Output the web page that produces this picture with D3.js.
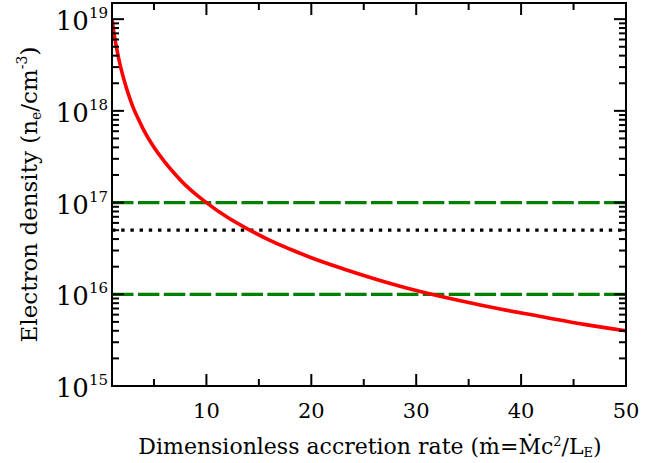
<html>
<head>
<script src="https://d3js.org/d3.v7.min.js"></script>
<style>
  body { margin: 0; background: white; }
  text { font-family: "DejaVu Serif", serif; fill: black; }
</style>
</head>
<body>
<svg id="chart" width="664" height="463"></svg>
<script>
  // accretion rate vs electron density
  var mdot = [1, 1.25, 1.5, 1.75, 2, 2.5, 3, 3.5, 4, 5, 6, 7, 8, 9, 10, 12, 14, 16, 18, 20, 23, 26, 30, 34, 38, 42, 46, 50];
  var density = [1.0e19, 6.4e18, 4.45e18, 3.25e18, 2.5e18, 1.6e18, 1.1e18, 8.2e17, 6.25e17, 4.0e17, 2.8e17, 2.05e17, 1.55e17, 1.23e17,
                 1.0e17, 6.9e16, 5.1e16, 3.9e16, 3.1e16, 2.5e16, 1.9e16, 1.48e16, 1.1e16, 8.6e15, 6.9e15, 5.7e15, 4.7e15, 4.0e15];
  var dashedLevels = [1e17, 1e16];
  var dottedLevel = 5e16;
  var xTicks = [10, 20, 30, 40, 50];
  var xMinorTicks = [5, 15, 25, 35, 45];
  var yTicks = [1e15, 1e16, 1e17, 1e18, 1e19];
  var yExps = ["15", "16", "17", "18", "19"];

  var margin = {top: 3, right: 38, bottom: 77, left: 112},
      width = 664 - margin.left - margin.right,
      height = 463 - margin.top - margin.bottom;

  var svg = d3.select("#chart")
    .append("g")
      .attr("transform", "translate(" + margin.left + "," + margin.top + ")");

  var x = d3.scaleLinear().domain([1, 50]).range([0, width]);
  var y = d3.scaleLog().domain([1e15, 1.5e19]).range([height, 0]);

  svg.append("clipPath").attr("id", "clip")
    .append("rect").attr("width", width).attr("height", height);

  var data = mdot.map(function(m, i) { return {m: m, n: density[i]}; });

  // horizontal reference lines
  dashedLevels.forEach(function(v) {
    svg.append("line")
      .attr("x1", 0).attr("x2", width)
      .attr("y1", y(v)).attr("y2", y(v))
      .style("stroke", "#008000")
      .style("stroke-width", 3.3)
      .style("stroke-dasharray", "21.5,4.4");
  });
  svg.append("line")
    .attr("x1", 0).attr("x2", width)
    .attr("y1", y(dottedLevel)).attr("y2", y(dottedLevel))
    .style("stroke", "black")
    .style("stroke-width", 3.3)
    .style("stroke-dasharray", "3.4,5.8");

  svg.append("path")
    .datum(data)
    .attr("clip-path", "url(#clip)")
    .attr("fill", "none")
    .attr("stroke", "#ff0000")
    .attr("stroke-width", 3.6)
    .attr("d", d3.line()
      .x(function(d) { return x(d.m); })
      .y(function(d) { return y(d.n); })
      .curve(d3.curveMonotoneX));

  // ticks, pointing inwards on all four sides
  var ticks = svg.append("g").style("stroke", "black").style("stroke-width", 2);
  var yMinor = [];
  for (var e = 15; e < 19; e++) for (var k = 2; k <= 9; k++) yMinor.push(k * Math.pow(10, e));
  [[xTicks, 12], [xMinorTicks, 7]].forEach(function(t) {
    t[0].forEach(function(v) {
      ticks.append("line").attr("x1", x(v)).attr("x2", x(v)).attr("y1", height).attr("y2", height - t[1]);
      ticks.append("line").attr("x1", x(v)).attr("x2", x(v)).attr("y1", 0).attr("y2", t[1]);
    });
  });
  [[yTicks, 12], [yMinor, 7]].forEach(function(t) {
    t[0].forEach(function(v) {
      ticks.append("line").attr("x1", 0).attr("x2", t[1]).attr("y1", y(v)).attr("y2", y(v));
      ticks.append("line").attr("x1", width).attr("x2", width - t[1]).attr("y1", y(v)).attr("y2", y(v));
    });
  });

  svg.append("rect")
    .attr("width", width).attr("height", height)
    .style("fill", "none").style("stroke", "black").style("stroke-width", 2);

  // tick labels
  svg.selectAll(".xlab")
    .data(xTicks)
    .enter()
    .append("text")
      .attr("x", function(d) { return x(d); })
      .attr("y", height + 32)
      .attr("text-anchor", "middle")
      .style("font-size", "21px")
      .text(function(d) { return d; });

  yTicks.forEach(function(v, i) {
    var t = svg.append("text")
      .attr("x", -4)
      .attr("y", y(v) + 11)
      .attr("text-anchor", "end")
      .style("font-size", "26px");
    t.append("tspan").text("10");
    t.append("tspan").attr("dy", -12).style("font-size", "15px").text(yExps[i]);
  });

  // axis titles
  var xt = svg.append("text")
    .attr("x", width / 2 + 1)
    .attr("y", height + 68)
    .attr("text-anchor", "middle")
    .style("font-size", "22px");
  xt.append("tspan").text("Dimensionless accretion rate (\u1E41=\u1E40c");
  xt.append("tspan").attr("dy", -8).style("font-size", "13px").text("2");
  xt.append("tspan").attr("dy", 8).text("/L");
  xt.append("tspan").attr("dy", 3).style("font-size", "13px").text("E");
  xt.append("tspan").attr("dy", -3).text(")");

  var yt = svg.append("text")
    .attr("transform", "translate(" + (-margin.left + 37) + "," + (height / 2) + ") rotate(-90)")
    .attr("text-anchor", "middle")
    .style("font-size", "23px");
  yt.append("tspan").text("Electron density (n");
  yt.append("tspan").attr("dy", 4).style("font-size", "14px").text("e");
  yt.append("tspan").attr("dy", -4).text("/cm");
  yt.append("tspan").attr("dy", -10).style("font-size", "14px").text("-3");
  yt.append("tspan").attr("dy", 10).text(")");
</script>
</body>
</html>
